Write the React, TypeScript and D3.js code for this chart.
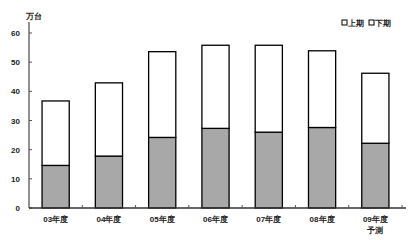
import React from "react";
import * as d3 from "d3";

const categories = ["03年度", "04年度", "05年度", "06年度", "07年度", "08年度", "09年度\n予測"];
const firstHalf = [14.6, 17.8, 24.2, 27.3, 26.0, 27.6, 22.2];
const totals = [36.7, 42.9, 53.6, 55.8, 55.8, 53.9, 46.2];
const secondHalf = totals.map((t, i) => +(t - firstHalf[i]).toFixed(1));
const yTicks = [0, 10, 20, 30, 40, 50, 60];
const legendLabels = ["上期", "下期"];
const unitLabel = "万台";

export default function App() {
  const W = 408, H = 240;
  const x0 = 29, x1 = 402, yTop = 22, yBottom = 208;
  const x = d3.scaleBand<string>().domain(categories).range([x0, x1]).paddingInner(0.49).paddingOuter(0.245);
  const y = d3.scaleLinear().domain([0, 60]).range([yBottom, 33]);
  const font = "'Liberation Sans', Arial, sans-serif";
  const step = x.step();
  return (
    <div style={{ position: "absolute", left: 0, top: 0 }}>
      <svg width={W} height={H} style={{ display: "block", background: "#fff" }}>
        {categories.map((c, i) => {
          const bx = x(c)!;
          const bw = x.bandwidth();
          const yFirst = y(firstHalf[i]);
          const yTot = y(firstHalf[i] + secondHalf[i]);
          return (
            <g key={c}>
              <rect x={bx} y={yFirst} width={bw} height={yBottom - yFirst} fill="#a8a8a8" stroke="#000" strokeWidth={1.3} />
              <rect x={bx} y={yTot} width={bw} height={yFirst - yTot} fill="#fff" stroke="#000" strokeWidth={1.3} />
            </g>
          );
        })}
        {/* y axis */}
        <line x1={x0} x2={x0} y1={yTop} y2={yBottom} stroke="#555" strokeWidth={1.3} />
        {yTicks.map((t) => (
          <g key={t}>
            <line x1={x0} x2={x0 + 3} y1={y(t)} y2={y(t)} stroke="#555" strokeWidth={1} />
            <text x={20} y={y(t) + 3} textAnchor="end" fontFamily={font} fontSize={8} fontWeight="bold" fill="#222">{t}</text>
          </g>
        ))}
        <text x={26} y={19} fontFamily={font} fontSize={8} fontWeight="bold" fill="#222">{unitLabel}</text>
        {/* x axis */}
        <line x1={x0} x2={x1 + 4} y1={yBottom} y2={yBottom} stroke="#333" strokeWidth={1.3} />
        {categories.map((c, i) => (
          <line key={"t" + i} x1={x0 + step * (i + 1)} x2={x0 + step * (i + 1)} y1={yBottom} y2={yBottom - 3} stroke="#555" strokeWidth={1} />
        ))}
        {categories.map((c) => {
          const cx = x(c)! + x.bandwidth() / 2;
          const lines = c.split("\n");
          return (
            <text key={"l" + c} x={cx} y={222} textAnchor="middle" fontFamily={font} fontSize={8} fontWeight="bold" fill="#222">
              {lines.map((l, j) => (
                <tspan key={j} x={cx} dy={j === 0 ? 0 : 11}>{l}</tspan>
              ))}
            </text>
          );
        })}
        {/* legend */}
        {legendLabels.map((l, i) => {
          const lx = 342 + i * 27;
          return (
            <g key={l}>
              <rect x={lx} y={20} width={5} height={5} fill="#fff" stroke="#000" strokeWidth={1} />
              <text x={lx + 6} y={26} fontFamily={font} fontSize={8} fontWeight="bold" fill="#222">{l}</text>
            </g>
          );
        })}
      </svg>
    </div>
  );
}
